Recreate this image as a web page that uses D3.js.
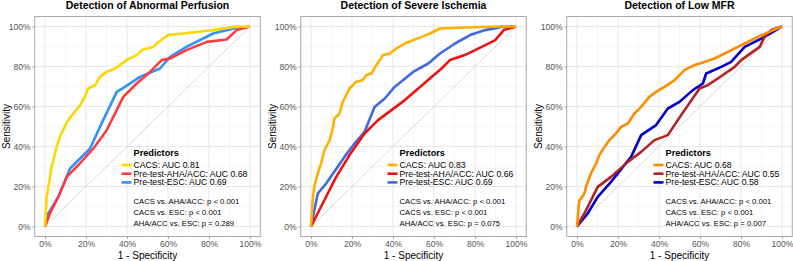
<!DOCTYPE html>
<html lang="en">
<head>
    <meta charset="UTF-8">
    <title>ROC curves</title>
    <script src="https://cdn.jsdelivr.net/npm/d3@7"></script>
    <style>
        body { margin: 0; background: #fff; }
        text { font-family: "Liberation Sans", Arial, sans-serif; }
    </style>
</head>
<body>
    <div class="roc-container"></div>
</body>
<script>
    // [1 - specificity, sensitivity]
    const perfusionCACS = [[0,0],[0.008,0.148],[0.033,0.30],[0.057,0.40],[0.073,0.45],[0.106,0.52],[0.13,0.555],[0.17,0.605],[0.195,0.65],[0.21,0.69],[0.244,0.706],[0.268,0.748],[0.30,0.773],[0.341,0.79],[0.366,0.807],[0.398,0.832],[0.447,0.857],[0.472,0.882],[0.496,0.89],[0.528,0.898],[0.545,0.915],[0.577,0.94],[0.60,0.957],[0.675,0.965],[0.82,0.982],[0.92,0.998],[1,1]]
    const perfusionAHA = [[0,0],[0.024,0.065],[0.065,0.148],[0.106,0.248],[0.17,0.315],[0.236,0.39],[0.30,0.48],[0.382,0.648],[0.447,0.715],[0.512,0.773],[0.569,0.832],[0.61,0.84],[0.69,0.882],[0.789,0.923],[0.886,0.935],[0.935,0.982],[1,1]]
    const perfusionESC = [[0,0],[0.016,0.065],[0.065,0.148],[0.122,0.29],[0.22,0.39],[0.268,0.498],[0.35,0.673],[0.39,0.698],[0.463,0.748],[0.561,0.79],[0.61,0.848],[0.69,0.898],[0.82,0.965],[0.92,0.99],[1,1]]

    const ischemiaCACS = [[0,0],[0.008,0.13],[0.016,0.20],[0.033,0.265],[0.049,0.315],[0.065,0.38],[0.09,0.43],[0.106,0.49],[0.114,0.54],[0.139,0.565],[0.155,0.623],[0.172,0.657],[0.188,0.69],[0.22,0.723],[0.253,0.732],[0.27,0.757],[0.294,0.765],[0.319,0.807],[0.351,0.857],[0.384,0.865],[0.417,0.89],[0.458,0.915],[0.498,0.932],[0.539,0.948],[0.58,0.965],[0.629,0.99],[0.75,0.995],[0.915,1],[1,1]]
    const ischemiaAHA = [[0,0],[0.057,0.115],[0.123,0.248],[0.188,0.357],[0.261,0.465],[0.327,0.532],[0.458,0.632],[0.588,0.748],[0.637,0.79],[0.678,0.832],[0.75,0.857],[0.833,0.898],[0.899,0.932],[0.94,0.982],[1,1]]
    const ischemiaESC = [[0,0],[0.033,0.165],[0.074,0.215],[0.163,0.348],[0.212,0.415],[0.261,0.473],[0.31,0.598],[0.36,0.64],[0.408,0.698],[0.498,0.773],[0.572,0.815],[0.629,0.865],[0.703,0.915],[0.776,0.957],[0.85,0.982],[0.931,0.998],[1,1]]

    const mfrCACS = [[0,0],[0.011,0.13],[0.02,0.14],[0.036,0.165],[0.044,0.198],[0.068,0.265],[0.093,0.315],[0.109,0.357],[0.134,0.398],[0.158,0.432],[0.19,0.465],[0.215,0.498],[0.248,0.515],[0.28,0.565],[0.313,0.598],[0.353,0.648],[0.386,0.673],[0.427,0.698],[0.476,0.732],[0.524,0.782],[0.573,0.807],[0.622,0.823],[0.671,0.84],[0.736,0.873],[0.818,0.915],[0.899,0.957],[1,1]]
    const mfrAHA = [[0,0],[0.036,0.065],[0.101,0.198],[0.166,0.248],[0.248,0.323],[0.313,0.373],[0.378,0.432],[0.443,0.457],[0.508,0.557],[0.598,0.69],[0.638,0.707],[0.687,0.74],[0.769,0.798],[0.801,0.832],[0.891,0.898],[0.915,0.948],[0.948,0.982],[1,1]]
    const mfrESC = [[0,0],[0.052,0.065],[0.101,0.148],[0.166,0.223],[0.231,0.307],[0.264,0.348],[0.313,0.457],[0.386,0.507],[0.443,0.59],[0.5,0.623],[0.565,0.682],[0.614,0.715],[0.63,0.765],[0.704,0.798],[0.752,0.823],[0.818,0.898],[0.915,0.948],[1,1]]

    const titles = ['Detection of Abnormal Perfusion', 'Detection of Severe Ischemia', 'Detection of Low MFR']
    const predictorNames = ['CACS', 'Pre-test-AHA/ACC', 'Pre-test-ESC']
    const aucValues = [[0.81, 0.68, 0.69], [0.83, 0.66, 0.69], [0.68, 0.55, 0.58]]
    const pValues = [['< 0.001', '< 0.001', '= 0.289'], ['< 0.001', '< 0.001', '= 0.075'], ['< 0.001', '< 0.001', '= 0.007']]
    const comparisons = ['CACS vs. AHA/ACC', 'CACS vs. ESC', 'AHA/ACC vs. ESC']
    const ticks = [0, 0.2, 0.4, 0.6, 0.8, 1]
    const curves = [[perfusionCACS, perfusionAHA, perfusionESC], [ischemiaCACS, ischemiaAHA, ischemiaESC], [mfrCACS, mfrAHA, mfrESC]]
    const colors = [['#FFD700', '#FF3B3F', '#2E93FA'], ['#FFB000', '#EE1111', '#4169E1'], ['#FF8C00', '#B22222', '#0000CD']]

    const width = 793
    const height = 261
    const zeroX = [45, 311, 577]   // pixel of 0% on each x axis
    const unit = 205

    const svg = d3.select('.roc-container')
        .append('svg')
        .attr('width', width)
        .attr('height', height)

    const y = d3.scaleLinear().domain([-0.05, 1.05]).range([236.5, 16.5])
    const pct = d3.format('.0%')

    function drawPanel(p) {
        const x = d3.scaleLinear().domain([-0.05, 1.05]).range([zeroX[p] - unit * 0.05, zeroX[p] + unit * 1.05])
        const g = svg.append('g').attr('class', 'panel')
        const [x0, x1] = x.range()
        const [y0, y1] = y.range()

        // grid
        const minor = d3.range(0.1, 1, 0.2)
        g.selectAll('.minor-x').data(minor).enter().append('line')
            .attr('x1', d => x(d)).attr('x2', d => x(d)).attr('y1', y0).attr('y2', y1)
            .attr('stroke', '#ececec').attr('stroke-width', 0.5)
        g.selectAll('.minor-y').data(minor).enter().append('line')
            .attr('y1', d => y(d)).attr('y2', d => y(d)).attr('x1', x0).attr('x2', x1)
            .attr('stroke', '#ececec').attr('stroke-width', 0.5)
        g.selectAll('.major-x').data(ticks).enter().append('line')
            .attr('x1', d => x(d)).attr('x2', d => x(d)).attr('y1', y0).attr('y2', y1)
            .attr('stroke', '#e3e3e3').attr('stroke-width', 0.8)
        g.selectAll('.major-y').data(ticks).enter().append('line')
            .attr('y1', d => y(d)).attr('y2', d => y(d)).attr('x1', x0).attr('x2', x1)
            .attr('stroke', '#e3e3e3').attr('stroke-width', 0.8)

        // diagonal
        g.append('line')
            .attr('x1', x(0)).attr('y1', y(0)).attr('x2', x(1)).attr('y2', y(1))
            .attr('stroke', '#cfcfcf').attr('stroke-width', 0.8)

        // curves, CACS on top
        const line = d3.line().x(d => x(d[0])).y(d => y(d[1]))
        const order = [2, 1, 0]
        g.selectAll('.curve').data(order).enter().append('path')
            .attr('d', i => line(curves[p][i]))
            .attr('fill', 'none')
            .attr('stroke', i => colors[p][i])
            .attr('stroke-width', 2.6)
            .attr('stroke-linejoin', 'round')

        // border
        g.append('rect')
            .attr('x', x0).attr('y', y1).attr('width', x1 - x0).attr('height', y0 - y1)
            .attr('fill', 'none').attr('stroke', '#a8a8a8').attr('stroke-width', 1)

        // axes
        const xAxis = g.append('g').attr('transform', `translate(0, ${y0})`)
            .call(d3.axisBottom(x).tickValues(ticks).tickFormat(pct).tickSize(2.5).tickPadding(2))
        const yAxis = g.append('g').attr('transform', `translate(${x0}, 0)`)
            .call(d3.axisLeft(y).tickValues(ticks).tickFormat(pct).tickSize(2.5).tickPadding(1.5))
        for (const ax of [xAxis, yAxis]) {
            ax.select('.domain').remove()
            ax.selectAll('.tick line').attr('stroke', '#a8a8a8')
            ax.selectAll('.tick text').attr('fill', '#555').attr('font-size', '8.6px')
                .attr('font-family', '"Liberation Sans", Arial, sans-serif')
        }

        // titles
        const cx = (x0 + x1) / 2
        g.append('text').attr('x', cx).attr('y', 9).attr('text-anchor', 'middle')
            .attr('font-size', '10.5px').attr('font-weight', 'bold').attr('fill', '#000')
            .text(titles[p])
        g.append('text').attr('x', cx).attr('y', 259).attr('text-anchor', 'middle')
            .attr('font-size', '10px').attr('fill', '#000')
            .text('1 - Specificity')
        g.append('text')
            .attr('transform', `translate(${x(0) - 35.5}, ${y(0.5)}) rotate(-90)`)
            .attr('text-anchor', 'middle')
            .attr('font-size', '10px').attr('fill', '#000')
            .text('Sensitivity')

        // legend
        const lx = x(0) + 88.5
        g.append('text').attr('x', lx).attr('y', 156.3)
            .attr('font-size', '9.2px').attr('font-weight', 'bold').attr('fill', '#000')
            .text('Predictors')
        const items = g.selectAll('.legend-item').data(predictorNames).enter().append('g')
            .attr('transform', (d, i) => `translate(0, ${165 + i * 8.7})`)
        items.append('line')
            .attr('x1', lx - 12).attr('x2', lx - 2).attr('y1', 0).attr('y2', 0)
            .attr('stroke', (d, i) => colors[p][i]).attr('stroke-width', 2.6)
        items.append('text').attr('x', lx).attr('y', 3)
            .attr('font-size', '8.7px').attr('fill', '#000')
            .text((d, i) => `${d}: AUC ${aucValues[p][i].toFixed(2)}`)

        g.selectAll('.stat').data(comparisons).enter().append('text')
            .attr('x', lx).attr('y', (d, i) => 204.4 + i * 10.8)
            .attr('font-size', '7.7px').attr('fill', '#000')
            .text((d, i) => `${d}: p ${pValues[p][i]}`)
    }

    titles.forEach((t, p) => drawPanel(p))
</script>
</html>
